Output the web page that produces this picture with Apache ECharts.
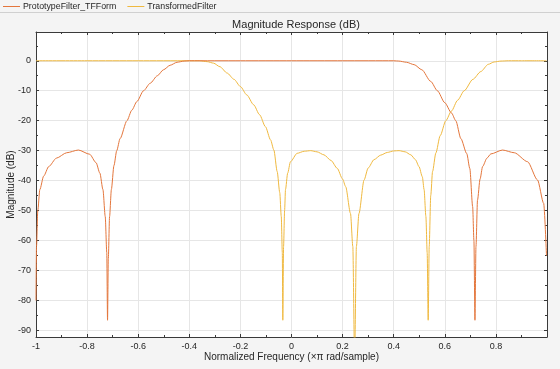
<!DOCTYPE html>
<html>
<head>
<meta charset="utf-8">
<script src="https://cdn.jsdelivr.net/npm/echarts@6/dist/echarts.min.js"></script>
<style>
html,body{margin:0;padding:0;background:#f4f4f4;}
#c{width:560px;height:369px;}
</style>
</head>
<body>
<div id="c"></div>
<script>
const seriesNames = ['PrototypeFilter_TFForm', 'TransformedFilter'];
const titleText = 'Magnitude Response (dB)';
const xName = 'Normalized Frequency (\u00d7\u03c0 rad/sample)';
const yName = 'Magnitude (dB)';

const protoFreq = [-1, -0.998, -0.993, -0.985, -0.97, -0.95, -0.92, -0.88, -0.834, -0.79, -0.765, -0.75, -0.738, -0.729, -0.723, -0.72, -0.717, -0.712, -0.705, -0.695, -0.684, -0.671, -0.644, -0.625, -0.605, -0.579, -0.553, -0.525, -0.501, -0.475, -0.448, -0.42, -0.4, -0.2, 0, 0.2, 0.4, 0.42, 0.45, 0.48, 0.51, 0.545, 0.571, 0.6, 0.626, 0.643, 0.663, 0.686, 0.698, 0.709, 0.714, 0.718, 0.722, 0.728, 0.738, 0.748, 0.765, 0.78, 0.826, 0.872, 0.924, 0.963, 0.987, 0.998];
const protoMag = [-80, -62, -50, -43, -38.5, -35.3, -32.5, -30.7, -29.8, -31.2, -34, -37.5, -43, -52, -64, -86.6, -66, -52, -43, -35, -30, -26, -20, -16.5, -13.6, -10, -7.5, -5, -3, -1.5, -0.5, -0.1, 0, 0, 0, 0, 0, -0.1, -0.5, -1.3, -3, -6.9, -10, -14, -17.4, -20, -26, -31, -36, -48.7, -60, -86.6, -62, -46.5, -39.5, -35.3, -32.5, -31.1, -29.8, -30.7, -33.7, -39.8, -47.6, -65];

const transFreq = [-1, -0.8, -0.6, -0.4, -0.36, -0.33, -0.305, -0.28, -0.252, -0.225, -0.2, -0.175, -0.148, -0.125, -0.102, -0.082, -0.069, -0.056, -0.046, -0.04, -0.036, -0.034, -0.031, -0.027, -0.0235, -0.015, -0.004, 0.022, 0.05, 0.075, 0.1, 0.127, 0.155, 0.179, 0.2, 0.212, 0.231, 0.24, 0.247, 0.254, 0.264, 0.284, 0.3, 0.323, 0.349, 0.375, 0.4, 0.421, 0.445, 0.467, 0.485, 0.499, 0.512, 0.519, 0.526, 0.531, 0.535, 0.539, 0.545, 0.552, 0.565, 0.582, 0.604, 0.626, 0.65, 0.676, 0.71, 0.741, 0.77, 0.793, 0.82, 0.85, 0.9, 0.998];
const transMag = [0, 0, 0, 0, 0, -0.3, -0.8, -2, -4.1, -6.2, -8.6, -11.4, -14.7, -18, -22, -26.4, -29.8, -37, -44, -52, -64, -86.6, -62, -50, -43, -37.5, -33.7, -30.9, -30.2, -30, -30.4, -31.4, -33.3, -35.9, -39.5, -42, -51, -62, -100, -62, -51, -39.8, -35.8, -33, -31.5, -30.6, -30.1, -30, -30.4, -31.4, -33, -35.3, -38.7, -43, -52, -64, -86.6, -62, -45, -37, -30.8, -25, -20, -16.8, -13.2, -10, -6.2, -3.6, -1.2, -0.4, -0.1, 0, 0, 0];

const xTicks = [-1, -0.8, -0.6, -0.4, -0.2, 0, 0.2, 0.4, 0.6, 0.8];
const yTicks = [0, -10, -20, -30, -40, -50, -60, -70, -80, -90];
const yMinorTicks = [5, -5, -15, -25, -35, -45, -55, -65, -75, -85];

const colors = ['#E4763C', '#EFB940'];
const axisColor = '#3a3a3a';
const textColor = '#262626';
const xMin = -1, xMax = 1, yMin = -92.2, yMax = 9.6;

function pairs(xs, ys) { return xs.map((x, i) => [x, ys[i]]); }

const chart = echarts.init(document.getElementById('c'), null, {renderer: 'canvas'});
const font = 'Helvetica, "Liberation Sans", Arial, sans-serif';

function xAxisCfg(pos, showLabels) {
  return {
    type: 'value', position: pos, min: xMin, max: xMax, interval: 0.2,
    name: showLabels ? xName : '', nameLocation: 'middle', nameGap: 15, nameMoveOverlap: false,
    nameTextStyle: {fontSize: 10, color: textColor, fontFamily: font},
    axisLine: {show: true, onZero: false, lineStyle: {color: axisColor, width: 1}},
    axisTick: {show: true, inside: true, length: 3, lineStyle: {color: axisColor}},
    minorTick: {show: true, splitNumber: 2, length: 2, lineStyle: {color: axisColor}},
    axisLabel: {show: showLabels, fontSize: 9, color: textColor, margin: 5, fontFamily: font,
      showMaxLabel: false,
      formatter: v => xTicks.some(t => Math.abs(t - v) < 1e-9) ? String(+v.toFixed(1)) : ''},
    splitLine: {show: showLabels, lineStyle: {color: '#e6e6e6', width: 1}}
  };
}
function yAxisCfg(pos, showLabels, minor) {
  const vals = minor ? yMinorTicks : yTicks;
  return {
    type: 'value', position: pos, min: yMin, max: yMax, offset: 0,
    name: showLabels ? yName : '', nameLocation: 'middle', nameGap: 20, nameRotate: 90, nameMoveOverlap: false,
    nameTextStyle: {fontSize: 10, color: textColor, fontFamily: font},
    axisLine: {show: !minor, onZero: false, lineStyle: {color: axisColor, width: 1}},
    axisTick: {show: true, inside: true, length: minor ? 2 : 3, customValues: vals, lineStyle: {color: axisColor}},
    minorTick: {show: false},
    axisLabel: {show: showLabels, customValues: yTicks, fontSize: 9, color: textColor, margin: 5, fontFamily: font,
      formatter: v => String(Math.round(v))},
    splitLine: {show: showLabels && !minor, lineStyle: {color: '#e6e6e6', width: 1}}
  };
}

chart.setOption({
  backgroundColor: '#f4f4f4',
  animation: false,
  color: colors,
  title: {text: titleText, left: 291, textAlign: 'center', top: 14,
    textStyle: {fontSize: 11, fontWeight: 'normal', color: textColor, fontFamily: font}},
  legend: {
    left: 3, top: 2, padding: 0, itemGap: 11, itemWidth: 17, itemHeight: 1,
    icon: 'rect',
    textStyle: {fontSize: 8.8, color: textColor, fontFamily: font, padding: [0, 0, 0, -2]},
    data: seriesNames
  },
  graphic: [{type: 'line', shape: {x1: 0, y1: 12.5, x2: 560, y2: 12.5}, style: {stroke: '#d0d0d0', lineWidth: 1}, silent: true}],
  grid: {left: 36, right: 13, top: 32, bottom: 32, outerBoundsMode: 'none', containLabel: false,
    show: true, backgroundColor: '#ffffff', borderWidth: 0},
  xAxis: [xAxisCfg('bottom', true), xAxisCfg('top', false)],
  yAxis: [yAxisCfg('left', true, false), yAxisCfg('right', false, false), yAxisCfg('left', false, true), yAxisCfg('right', false, true)],
  series: [
    {name: seriesNames[0], type: 'line', data: pairs(protoFreq, protoMag), showSymbol: false, symbol: 'none',
     smooth: 0.25, smoothMonotone: 'x', clip: true, lineStyle: {width: 1, color: colors[0]}, z: 3},
    {name: seriesNames[1], type: 'line', data: pairs(transFreq, transMag), showSymbol: false, symbol: 'none',
     smooth: 0.25, smoothMonotone: 'x', clip: true, lineStyle: {width: 1, color: colors[1]}, z: 2}
  ]
});
</script>
</body>
</html>
